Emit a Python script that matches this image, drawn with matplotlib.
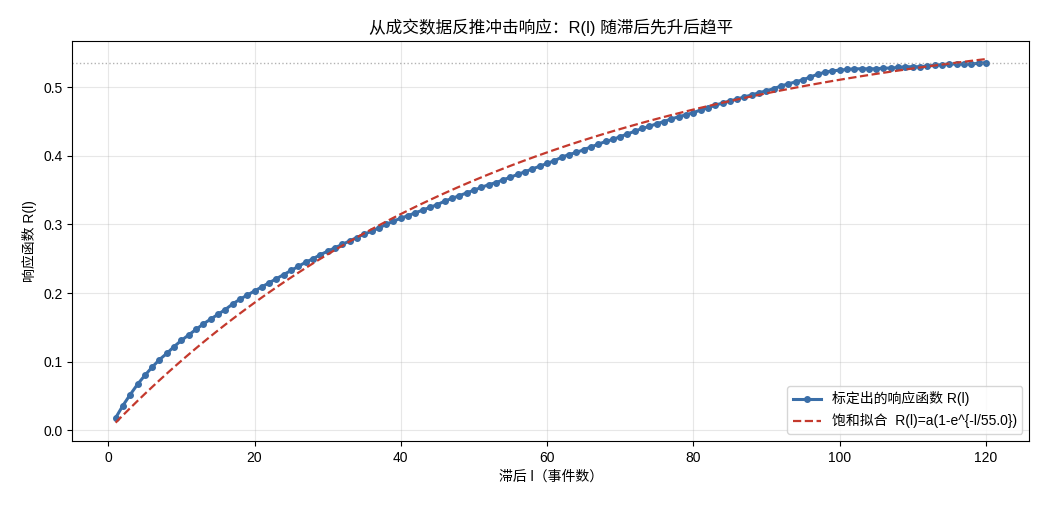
import numpy as np
import matplotlib
matplotlib.use("Agg")
import matplotlib.pyplot as plt

plt.rcParams["font.family"] = ["Liberation Sans", "Noto Sans CJK SC", "DejaVu Sans"]
plt.rcParams["axes.unicode_minus"] = False

# -------------------
# Data
# -------------------
lags = list(range(1, 121))
response = [
    0.018, 0.036, 0.052, 0.067, 0.080, 0.092, 0.103, 0.112, 0.122, 0.131,
    0.139, 0.147, 0.155, 0.162, 0.169, 0.176, 0.184, 0.191, 0.197, 0.203,
    0.209, 0.215, 0.221, 0.227, 0.233, 0.239, 0.245, 0.250, 0.256, 0.261,
    0.266, 0.271, 0.276, 0.281, 0.286, 0.290, 0.295, 0.300, 0.305, 0.309,
    0.313, 0.317, 0.321, 0.325, 0.329, 0.334, 0.338, 0.342, 0.346, 0.350,
    0.354, 0.358, 0.361, 0.365, 0.369, 0.373, 0.377, 0.381, 0.385, 0.389,
    0.393, 0.398, 0.402, 0.405, 0.409, 0.413, 0.417, 0.421, 0.424, 0.428,
    0.432, 0.436, 0.440, 0.443, 0.447, 0.450, 0.454, 0.457, 0.460, 0.463,
    0.467, 0.470, 0.474, 0.477, 0.480, 0.483, 0.486, 0.489, 0.492, 0.495,
    0.498, 0.502, 0.505, 0.508, 0.511, 0.515, 0.519, 0.522, 0.524, 0.525,
    0.526, 0.527, 0.527, 0.527, 0.527, 0.528, 0.528, 0.529, 0.530, 0.530,
    0.530, 0.531, 0.532, 0.533, 0.534, 0.534, 0.534, 0.534, 0.535, 0.536,
]

# saturating fit parameters R(l) = a(1 - exp(-l/tau))
a_fit = 0.61
tau = 55.0

l = np.array(lags)
R = np.array(response)
R_fit = a_fit * (1 - np.exp(-l / tau))

# -------------------
# Plot
# -------------------
fig, ax = plt.subplots(figsize=(10.45, 5.05), dpi=100)
ax.plot(l, R, color="#3a6ea8", lw=2.2, marker="o", ms=4,
        label="标定出的响应函数 R(l)")
ax.plot(l, R_fit, color="#c4392d", lw=1.6, ls="--",
        label=f"饱和拟合  R(l)=a(1-e^{{-l/{tau}}})")
ax.axhline(R.max(), color="gray", ls=":", lw=1.0, alpha=0.6)

ax.set_title("从成交数据反推冲击响应：R(l) 随滞后先升后趋平", fontsize=12)
ax.set_xlabel("滞后 l（事件数）", fontsize=10)
ax.set_ylabel("响应函数 R(l)", fontsize=10)
ax.grid(True, alpha=0.3)
ax.legend(loc="lower right", fontsize=10)

fig.subplots_adjust(left=0.069, right=0.985, top=0.919, bottom=0.127)
fig.savefig("out.png", dpi=100)
